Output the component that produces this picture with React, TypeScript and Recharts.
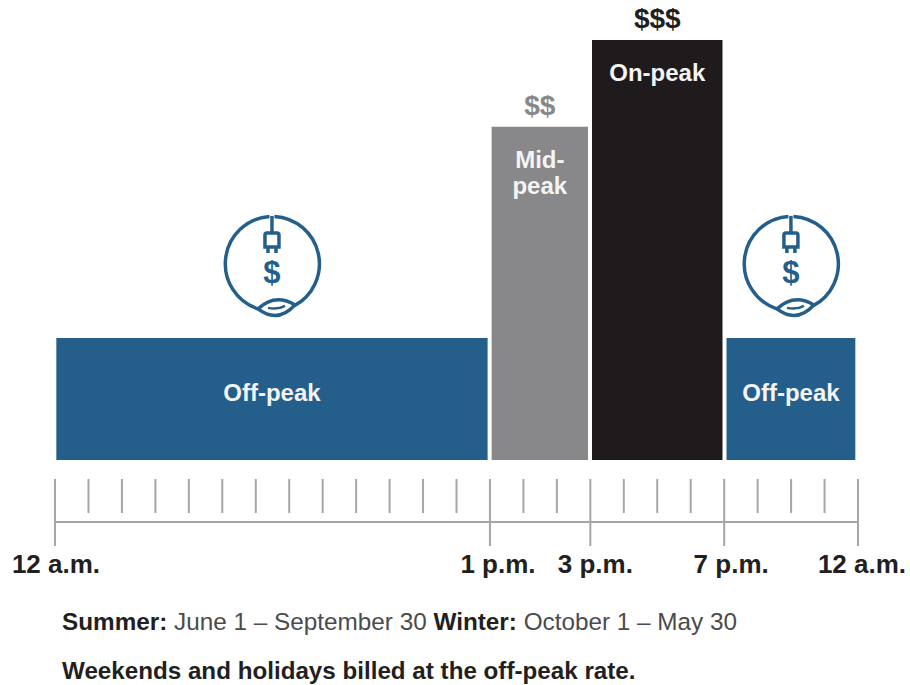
import React from 'react';
import { ComposedChart, Area, XAxis, YAxis } from 'recharts';

const FONT = '"Liberation Sans", Arial, sans-serif';
const INK = '#231f20';
const RULE = '#a6a6a8';
const BLUE = '#245f8c';

// Slots along the day ruler, one per tick
const slotTicks = Array.from({ length: 25 }, (_, i) => i);
const majorLabels: Record<number, string> = { 0: '12 a.m.', 13: '1 p.m.', 16: '3 p.m.', 20: '7 p.m.', 24: '12 a.m.' };

const periodKeys = ['offMorning', 'mid', 'on', 'offEvening'];
const periodStarts = [0.04, 13.05, 16.05, 20.07];
const periodEnds = [12.93, 15.93, 19.95, 23.92];
const periodLevels = [1, 2.73, 3.44, 1];
const periodColors = [BLUE, '#88888b', '#1f1b1c', BLUE];
const periodNames = [['Off-peak'], ['Mid-', 'peak'], ['On-peak'], ['Off-peak']];
const periodPrices = ['', '$$', '$$$', ''];

// Horizontal shift of the hour labels away from their ticks
const labelShift: Record<number, number> = { 0: 1, 13: 8, 16: 5, 20: 7, 24: 4 };

const rows = periodKeys.flatMap((key, i) => {
  const mid = (periodStarts[i] + periodEnds[i]) / 2;
  return [periodStarts[i], mid, periodEnds[i]].map((slot) => ({ slot, [key]: periodLevels[i] }));
});

const PlugIcon = ({ cx, cy }: { cx: number; cy: number }) => (
  <g transform={`translate(${cx},${cy})`} fill="none" stroke={BLUE} strokeWidth={3.5}>
    {/* cord loop, open at the leaf and the plug */}
    <path d="M -2.5 -47.5 A 47.5 47.5 0 0 0 -14 45" />
    <path d="M 22 42 A 47.5 47.5 0 0 0 2.5 -47.5" />
    <path d="M 0 -48 V -31" />
    <path d="M -7 -17 V -29 Q -7 -31 -5 -31 H 5 Q 7 -31 7 -29 V -17 Z" />
    <path d="M -4 -17 V -11 M 4 -17 V -11" />
    <path d="M -14 45 Q 3 29 23 41 Q 6 60 -14 45 Z" />
    <path d="M -4 44 Q 6 46 13 42" strokeWidth={2.5} />
    <text x={0} y={19} textAnchor="middle" fontFamily={FONT} fontWeight={700} fontSize={31} fill={BLUE} stroke="none">$</text>
  </g>
);

// Renders period name, price and icon around the midpoint of a block
const periodLabel = (p: number) => (props: any) => {
  const { x, y, index } = props;
  if (rows[index]?.slot !== (periodStarts[p] + periodEnds[p]) / 2) return null;
  const off = p === 0 || p === 3;
  const firstDy = off ? 63 : 41;
  return (
    <g fontFamily={FONT} fontWeight={700} textAnchor="middle">
      {periodNames[p].map((line, i) => (
        <text key={line} x={x} y={y + firstDy + i * 26} fontSize={24} fill="#f4f4f4">{line}</text>
      ))}
      {periodPrices[p] && (
        <text x={x} y={y - 12} fontSize={28} fill={p === 1 ? '#88888b' : INK}>{periodPrices[p]}</text>
      )}
      {off && <PlugIcon cx={x} cy={y - 74} />}
    </g>
  );
};

const RulerTick = (props: any) => {
  const { x, y, payload } = props;
  const label = majorLabels[payload.value];
  return (
    <g>
      <line x1={x} x2={x} y1={y - 43} y2={label ? y + 24 : y - 9} stroke={RULE} strokeWidth={2} />
      {label && (
        <text x={x + labelShift[payload.value]} y={y + 51} textAnchor="middle" fontFamily={FONT} fontWeight={700} fontSize={26} fill={INK}>{label}</text>
      )}
    </g>
  );
};

export default function App() {
  return (
    <div style={{ position: 'absolute', left: 0, top: 0, width: 910, height: 685, background: '#fff' }}>
      <ComposedChart
        width={910}
        height={685}
        data={rows}
        margin={{ top: 40, right: 52, bottom: 103, left: 55 }}
      >
        <XAxis
          dataKey="slot"
          type="number"
          domain={[0, 24]}
          ticks={slotTicks}
          interval={0}
          height={60}
          tickSize={0}
          tickMargin={0}
          tickLine={false}
          axisLine={{ stroke: RULE, strokeWidth: 2 }}
          tick={RulerTick}
        />
        <YAxis hide domain={[-0.508, 3.44]} />
        {periodKeys.map((key, i) => (
          <Area
            key={key}
            dataKey={key}
            type="linear"
            stroke="none"
            fill={periodColors[i]}
            fillOpacity={1}
            dot={false}
            activeDot={false}
            connectNulls={false}
            isAnimationActive={false}
            label={periodLabel(i)}
          />
        ))}
      </ComposedChart>
      <div style={{ position: 'absolute', left: 62, top: 608, fontFamily: FONT, fontSize: 24.3, lineHeight: '28px', color: '#4b4b4d', whiteSpace: 'nowrap' }}>
        <b style={{ color: INK }}>Summer:</b> June 1 – September 30 <b style={{ color: INK }}>Winter:</b> October 1 – May 30
      </div>
      <div style={{ position: 'absolute', left: 62, top: 657, fontFamily: FONT, fontSize: 24.2, lineHeight: '28px', fontWeight: 700, color: INK, whiteSpace: 'nowrap' }}>
        Weekends and holidays billed at the off-peak rate.
      </div>
    </div>
  );
}
